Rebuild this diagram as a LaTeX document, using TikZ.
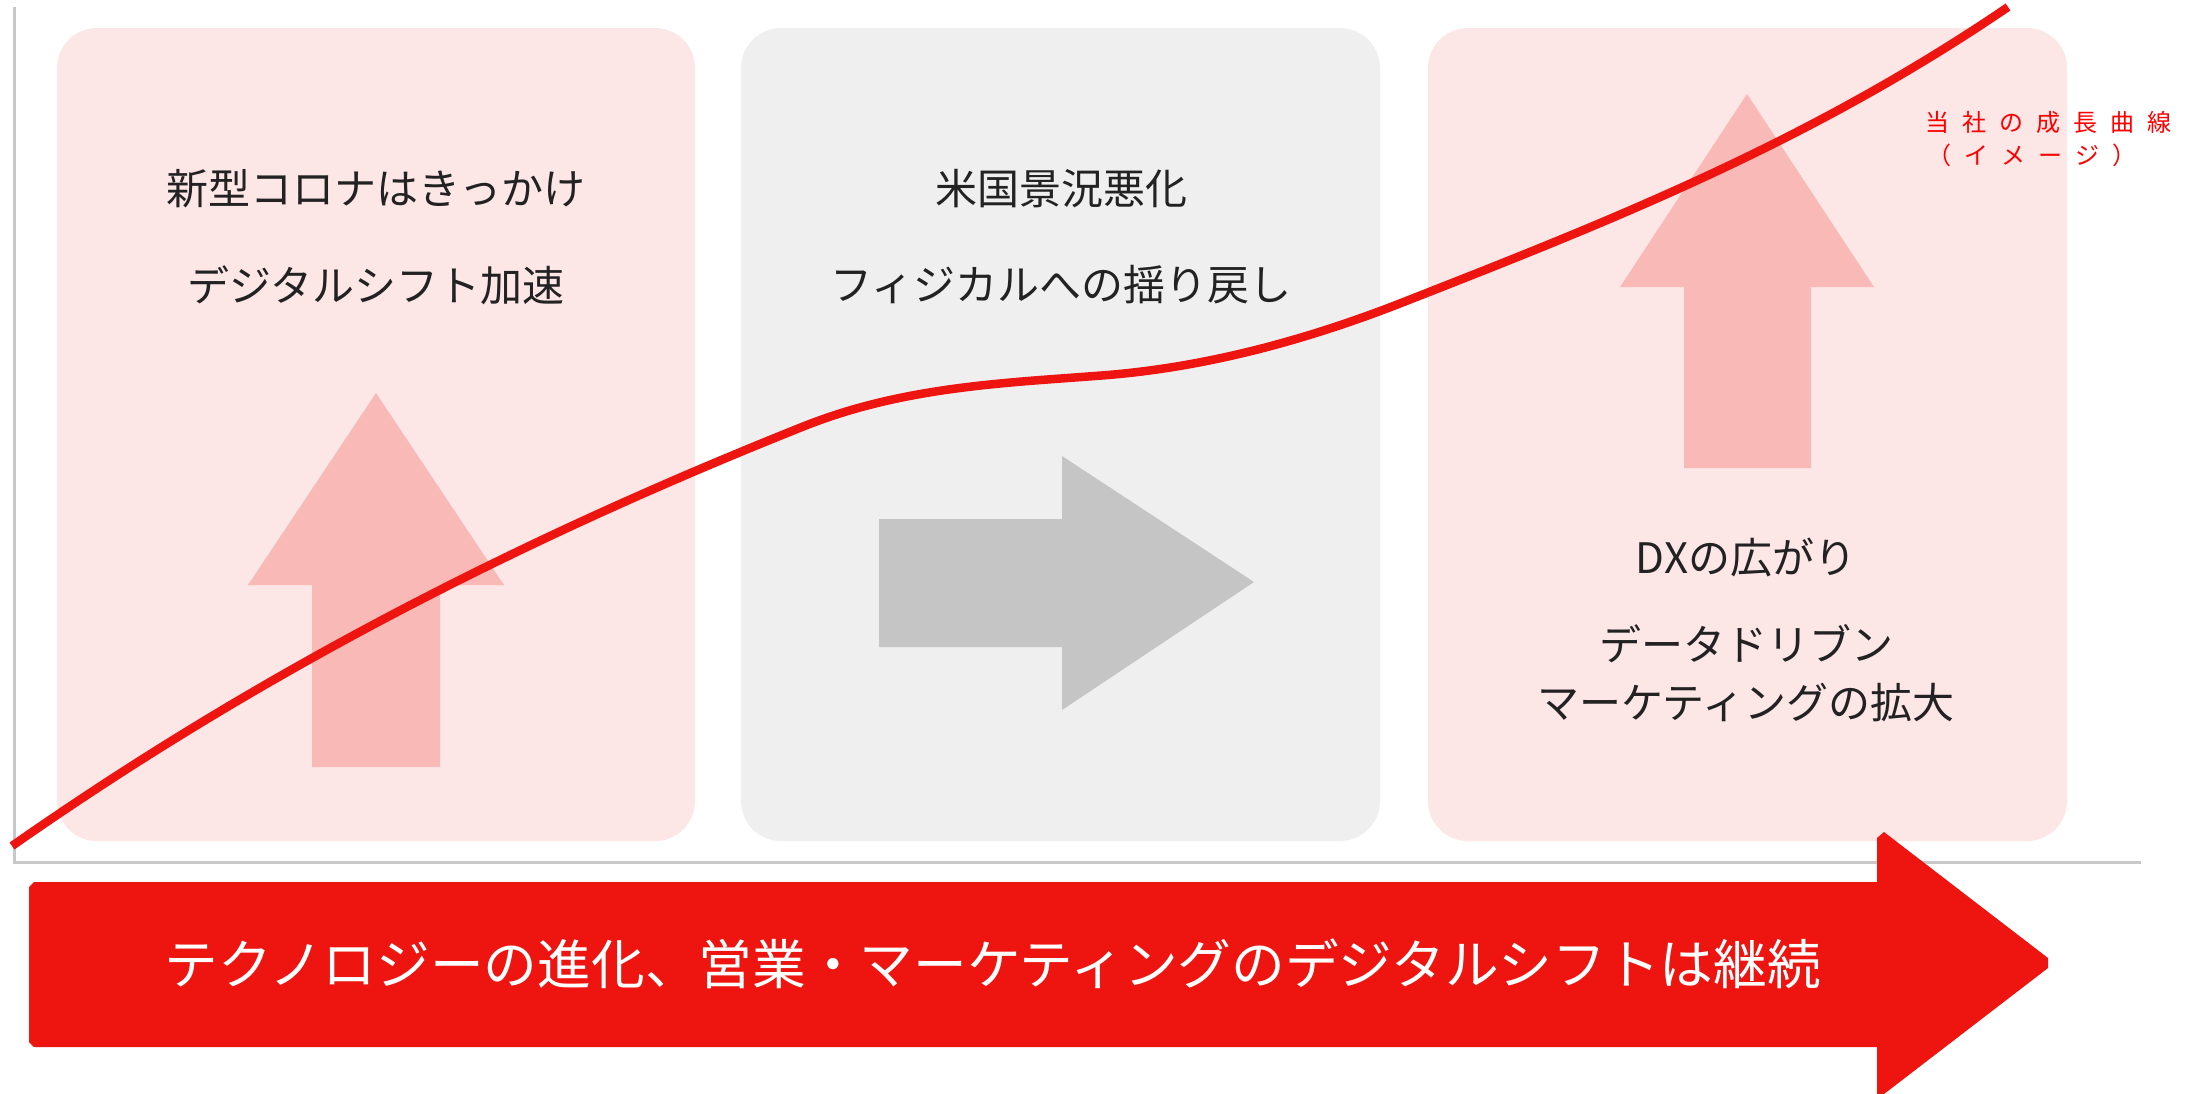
\documentclass[tikz,border=0pt]{standalone}
\usepackage{fontspec}
\setmainfont{Noto Sans CJK JP}
\definecolor{panelpink}{HTML}{FCE6E6}
\definecolor{panelgray}{HTML}{EFEFEF}
\definecolor{arrowpink}{HTML}{F8B9B7}
\definecolor{arrowgray}{HTML}{C5C5C5}
\definecolor{mainred}{HTML}{EE1410}
\definecolor{labelred}{HTML}{FF0000}
\definecolor{axisgray}{HTML}{C8C8C8}
\definecolor{txtdark}{HTML}{222222}
\newcommand{\ls}{\hspace{13pt}}
\begin{document}
\begin{tikzpicture}[x=1pt,y=-1pt,
  panel/.style={rounded corners=40pt},
  paneltext/.style={inner sep=0pt,text=txtdark,font=\fontsize{42pt}{50pt}\selectfont},
  redlabel/.style={inner sep=0pt,anchor=west,text=labelred,font=\fontsize{24pt}{28pt}\selectfont},
  bigtext/.style={inner sep=0pt,text=white,font=\fontsize{53.7pt}{60pt}\selectfont}]
\useasboundingbox (0,0) rectangle (2206,1093);
\fill[white] (0,0) rectangle (2206,1093);
% panels
\fill[panelpink,panel] (57,28) rectangle (695,841);
\fill[panelgray,panel] (741,28) rectangle (1380,841);
\fill[panelpink,panel] (1428,28) rectangle (2067,841);
% axes
\draw[axisgray,line width=3pt] (14,7) -- (14,862) -- (2141,862);
% arrows inside panels
\fill[arrowpink] (376,393) -- (504,585) -- (440,585) -- (440,767) -- (312,767) -- (312,585) -- (248,585) -- cycle;
\fill[arrowgray] (1254,582) -- (1062,710) -- (1062,647) -- (879,647) -- (879,519) -- (1062,519) -- (1062,456) -- cycle;
\fill[arrowpink] (1747,94) -- (1874,287) -- (1811,287) -- (1811,468) -- (1684,468) -- (1684,287) -- (1620,287) -- cycle;
% panel texts
\node[paneltext] (t1a) at (376,189) {新型コロナはきっかけ};
\node[paneltext] (t1b) at (376,285) {デジタルシフト加速};
\node[paneltext] (t2a) at (1061,189) {米国景況悪化};
\node[paneltext] (t2b) at (1061,285) {フィジカルへの揺り戻し};
\node[paneltext] (t3a) at (1746,557) {DXの広がり};
\node[paneltext] (t3b) at (1746,644) {データドリブン};
\node[paneltext] (t3c) at (1746,703) {マーケティングの拡大};
% growth curve
\draw[mainred,line width=8.5pt]
  (12,846) .. controls (275,662) and (539,532) .. (802,427)
  .. controls (904,386) and (1006,383) .. (1108,375)
  .. controls (1204,367) and (1300,342) .. (1396,305)
  .. controls (1600,225) and (1804,146) .. (2008,7);
\node[redlabel] (lab1) at (1925,122) {当\ls 社\ls の\ls 成\ls 長\ls 曲\ls 線};
\node[redlabel] (lab2) at (1927,155) {（\ls イ\ls メ\ls ー\ls ジ\ls ）};
% bottom arrow
\fill[mainred] (34,882) -- (1877,882) -- (1877,838) -- (1884,832) -- (2048,958) -- (2048,968) -- (1884,1094) -- (1877,1094)
  -- (1877,1047) -- (34,1047) -- (29,1042) -- (29,887) -- cycle;
\node[bigtext] (bt) at (993,964) {テクノロジーの進化、営業・マーケティングのデジタルシフトは継続};
\end{tikzpicture}
\end{document}
